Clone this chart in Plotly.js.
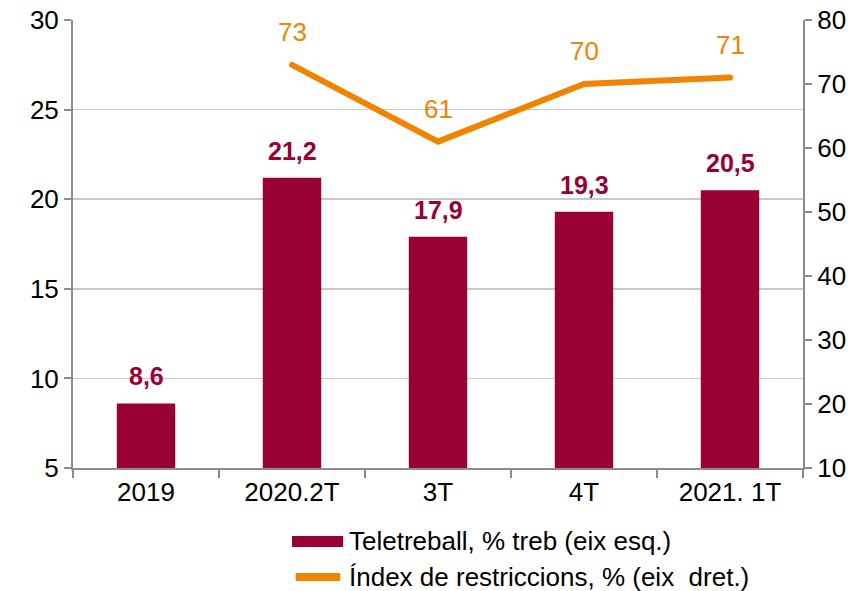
<!DOCTYPE html>
<html>
<head>
<meta charset="utf-8">
<script src="https://cdn.plot.ly/plotly-3.0.1.min.js"></script>
<style>html,body{margin:0;padding:0;background:#fff;}#chart{width:860px;height:591px;}
#chart .scatterlayer path.js-line{stroke-linecap:round;}</style>
</head>
<body>
<div id="chart"></div>
<script>
const categories = ["2019", "2020.2T", "3T", "4T", "2021. 1T"];
const teletreball = [8.6, 21.2, 17.9, 19.3, 20.5];
const teletreballLabels = ["8,6", "21,2", "17,9", "19,3", "20,5"];
const lineCategories = ["2020.2T", "3T", "4T", "2021. 1T"];
const restriccions = [73, 61, 70, 71];
const restriccionsLabels = ["73", "61", "70", "71"];
const leftTicks = [5, 10, 15, 20, 25, 30];
const rightTicks = [10, 20, 30, 40, 50, 60, 70, 80];
const legendNames = ["Teletreball, % treb (eix esq.)", "Índex de restriccions, % (eix  dret.)"];

const barColor = "#990033";
const lineColor = "#F08300";
const font = "Liberation Sans, Arial, sans-serif";

const traces = [
  {
    type: "bar", x: categories, y: teletreball, name: legendNames[0],
    marker: {color: barColor}, width: 0.4, yaxis: "y", hoverinfo: "skip", showlegend: false
  },
  {
    type: "scatter", mode: "lines", x: lineCategories, y: restriccions,
    name: legendNames[1],
    line: {color: lineColor, width: 6}, yaxis: "y2", hoverinfo: "skip", showlegend: false
  }
];

const annotations = [];
categories.forEach((c, i) => annotations.push({
  x: i, y: teletreball[i], xref: "x", yref: "y", text: teletreballLabels[i],
  showarrow: false, yanchor: "bottom", yshift: 11,
  font: {family: font, size: 25, color: barColor, weight: "bold"}
}));
lineCategories.forEach((c, i) => annotations.push({
  x: categories.indexOf(c), y: restriccions[i], xref: "x", yref: "y2", text: restriccionsLabels[i],
  showarrow: false, yanchor: "bottom", yshift: 16,
  font: {family: font, size: 26, color: lineColor}
}));
// custom legend (wide swatches as in the reference)
annotations.push({
  xref: "paper", yref: "paper", x: 0.376, y: -0.163, xanchor: "left", yanchor: "middle",
  text: legendNames[0], showarrow: false, font: {family: font, size: 26, color: "#000"}
});
annotations.push({
  xref: "paper", yref: "paper", x: 0.376, y: -0.243, xanchor: "left", yanchor: "middle",
  text: legendNames[1], showarrow: false, font: {family: font, size: 26, color: "#000"}
});

const shapes = [
  {type: "rect", xref: "paper", yref: "paper", x0: 0.300, x1: 0.370, y0: -0.1763, y1: -0.1518,
   fillcolor: barColor, line: {width: 0}},
  {type: "line", xref: "paper", yref: "paper", x0: 0.305, x1: 0.366, y0: -0.2433, y1: -0.2433,
   line: {color: lineColor, width: 8}}
];

const layout = {
  width: 860, height: 591,
  margin: {l: 73, r: 57, t: 20, b: 123},
  paper_bgcolor: "#fff", plot_bgcolor: "#fff",
  font: {family: font, size: 26, color: "#000"},
  showlegend: false,
  xaxis: {
    type: "category", categoryorder: "array", categoryarray: categories, range: [-0.5, 4.5],
    showline: true, linecolor: "#8c8c8c", linewidth: 2,
    ticks: "outside", tickson: "boundaries", ticklen: 8, tickcolor: "#8c8c8c", tickwidth: 2,
    tickfont: {family: font, size: 26, color: "#000"}, showgrid: false, zeroline: false
  },
  yaxis: {
    range: [5, 30], tickvals: leftTicks, ticktext: leftTicks.map(String),
    showline: true, linecolor: "#8c8c8c", linewidth: 2,
    ticks: "outside", ticklen: 7, tickcolor: "#8c8c8c", tickwidth: 2,
    showgrid: true, gridcolor: "#c8c8c8", gridwidth: 1.5, zeroline: false,
    tickfont: {family: font, size: 26, color: "#000"}
  },
  yaxis2: {
    range: [10, 80], tickvals: rightTicks, ticktext: rightTicks.map(String),
    overlaying: "y", side: "right",
    showline: true, linecolor: "#8c8c8c", linewidth: 2,
    ticks: "outside", ticklen: 7, tickcolor: "#8c8c8c", tickwidth: 2,
    showgrid: false, zeroline: false,
    tickfont: {family: font, size: 26, color: "#000"}
  },
  annotations: annotations,
  shapes: shapes
};

Plotly.newPlot("chart", traces, layout, {staticPlot: true, displayModeBar: false});
</script>
</body>
</html>
